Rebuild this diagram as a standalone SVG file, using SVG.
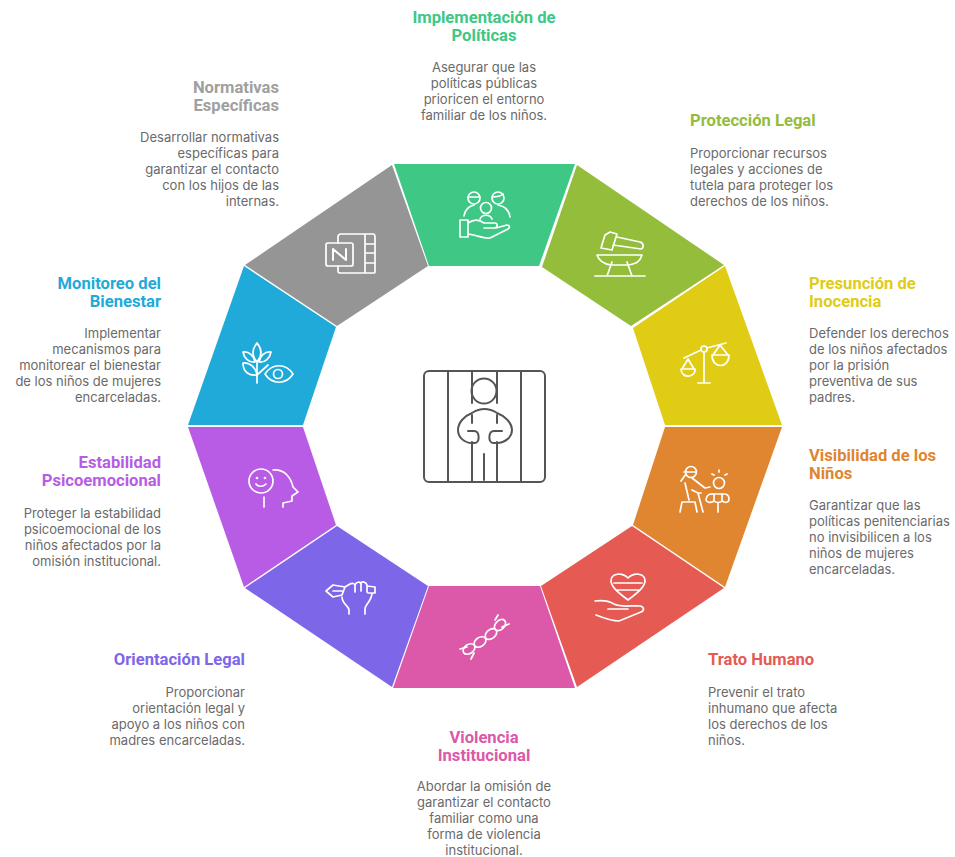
<svg xmlns="http://www.w3.org/2000/svg" width="955" height="857" viewBox="0 0 955 857">
<style>
text{font-family:"Roboto","Liberation Sans",sans-serif}
.t{font-size:16.6px;font-weight:700}
.b{font-family:"Inter","Roboto",sans-serif;font-size:13px;fill:#6a6a6a}
.m{text-anchor:middle}.e{text-anchor:end}
.i{fill:none;stroke:#fff;stroke-width:1.7;stroke-linecap:round;stroke-linejoin:round}
.c{fill:none;stroke:#555;stroke-width:2;stroke-linecap:round;stroke-linejoin:round}
</style>
<rect width="955" height="857" fill="#fff"/>
<g id="node-implementacion">
<polygon points="394,164 575,164 539,266 429,266" fill="#3ec785"/>
<g class="i"><circle cx="474" cy="198" r="6"/><circle cx="498" cy="198" r="6"/><circle cx="486" cy="208" r="5.5"/><path d="M468,197H480M492,197C496,197 501,196 503,194M464,216C465,209 470,206 474,205M498,205C504,206 509,210 510,217M480,219C482,214 490,214 492,219"/><path d="M460,220H468V237H460ZM468,223C474,219 480,220 484,223H495C498,223 498,228 494,228H484M496,228L507,225C510,225 510,228 508,229L490,238C484,239 476,235 468,234"/></g>
<text class="t m" x="484" y="23" fill="#3ec785">Implementación de</text><text class="t m" x="484" y="41" fill="#3ec785">Políticas</text>
<text class="b m" x="484" y="72">Asegurar que las</text><text class="b m" x="484" y="88">políticas públicas</text><text class="b m" x="484" y="104">prioricen el entorno</text><text class="b m" x="484" y="120">familiar de los niños.</text>
</g>
<g id="node-proteccion">
<polygon points="577,165 724,265 631,326 542,267" fill="#93bd3b"/>
<g class="i"><path d="M601,248L605,235 610,232 617,234 612,250ZM617,237L640,242C644,243 644,248 641,249L613,245"/><path d="M597,255H642C640,261 637,264 628,265H611C603,264 599,261 597,255ZM612,262L607,276M627,262L632,276M595,276H645"/></g>
<text class="t" x="690" y="126" fill="#93bd3b">Protección Legal</text>
<text class="b" x="690" y="158">Proporcionar recursos</text><text class="b" x="690" y="174">legales y acciones de</text><text class="b" x="690" y="190">tutela para proteger los</text><text class="b" x="690" y="206">derechos de los niños.</text>
</g>
<g id="node-presuncion">
<polygon points="725,266 782,425 665,425 633,328" fill="#e0cc15"/>
<g class="i"><circle cx="704" cy="349" r="3"/><path d="M684,358L701,350M707,348L726,343M704,352V383M698,383H710"/><path d="M688,359L682,369M688,359L694,369M681,369H695C696,378 681,379 681,369Z"/><path d="M720,345L713,355M720,345L728,355M712,355H729C729,369 712,369 712,355Z"/></g>
<text class="t" x="809" y="289" fill="#e0cc15">Presunción de</text><text class="t" x="809" y="307" fill="#e0cc15">Inocencia</text>
<text class="b" x="809" y="338">Defender los derechos</text><text class="b" x="809" y="354">de los niños afectados</text><text class="b" x="809" y="370">por la prisión</text><text class="b" x="809" y="386">preventiva de sus</text><text class="b" x="809" y="402">padres.</text>
</g>
<g id="node-visibilidad">
<polygon points="782,427 725,587 633,525 665,427" fill="#e08530"/>
<g class="i"><circle cx="691" cy="472" r="5.5"/><path d="M684,472H696M686,474L681,481M685,483L689,500M692,478L705,488 710,487M692,490L698,493 701,493M698,493L703,512M680,512L682,502H695L697,512"/><circle cx="719" cy="483" r="5.5"/><path d="M714,494C708,493 706,497 706,500 707,503 711,503 714,501 716,503 720,503 722,501 725,503 729,503 729,499 729,496 727,494 724,494ZM714,494V501M722,494V501M718,503V512M712,474L714,475M719,470V472M727,474L725,475"/></g>
<text class="t" x="809" y="461" fill="#e08530">Visibilidad de los</text><text class="t" x="809" y="479" fill="#e08530">Niños</text>
<text class="b" x="809" y="510">Garantizar que las</text><text class="b" x="809" y="526">políticas penitenciarias</text><text class="b" x="809" y="542">no invisibilicen a los</text><text class="b" x="809" y="558">niños de mujeres</text><text class="b" x="809" y="574">encarceladas.</text>
</g>
<g id="node-trato">
<polygon points="724,588 577,687 541,586 632,526" fill="#e55a52"/>
<g class="i"><path d="M628,600C619,593 611,587 611,581C611,573 622,572 628,578C634,572 645,573 645,581C645,587 637,593 628,600ZM614,583H642M617,590H639"/><path d="M595,601C603,600 609,601 614,604 622,608 632,605 640,606 645,607 644,611 641,612L619,621C611,621 601,617 596,615M608,609H628"/></g>
<text class="t" x="708" y="665" fill="#e55a52">Trato Humano</text>
<text class="b" x="708" y="697">Prevenir el trato</text><text class="b" x="708" y="713">inhumano que afecta</text><text class="b" x="708" y="729">los derechos de los</text><text class="b" x="708" y="745">niños.</text>
</g>
<g id="node-violencia">
<polygon points="575,688 393,688 429,586 540,586" fill="#dc58a8"/>
<g class="i"><path d="M460,649L467,647M502,627L509,624M471,659L474,653M495,620L498,615"/><ellipse cx="469" cy="649" rx="6.5" ry="4.5" transform="rotate(-35 469 649)"/><ellipse cx="480" cy="642" rx="6.5" ry="4.5" transform="rotate(-35 480 642)"/><ellipse cx="491" cy="634" rx="6.5" ry="4.5" transform="rotate(-40 491 634)"/><ellipse cx="500" cy="625" rx="6.5" ry="4.5" transform="rotate(-45 500 625)"/></g>
<text class="t m" x="484" y="743" fill="#dc58a8">Violencia</text><text class="t m" x="484" y="761" fill="#dc58a8">Institucional</text>
<text class="b m" x="484" y="791">Abordar la omisión de</text><text class="b m" x="484" y="807">garantizar el contacto</text><text class="b m" x="484" y="823">familiar como una</text><text class="b m" x="484" y="839">forma de violencia</text><text class="b m" x="484" y="855">institucional.</text>
</g>
<g id="node-orientacion">
<polygon points="392,687 245,588 337,526 428,586" fill="#7d66e8"/>
<g class="i"><path d="M326,591L333,585 345,587 342,595 333,597ZM333,591H342M345,587L350,584C352,583 355,583 355,586V592M355,585C356,582 360,581 361,584V591M361,583C362,581 366,582 367,585V592M367,586L375,587V593H368M342,597C342,604 349,606 349,610V614M372,593C372,601 365,604 365,609V614"/></g>
<text class="t e" x="245" y="665" fill="#7d66e8">Orientación Legal</text>
<text class="b e" x="245" y="697">Proporcionar</text><text class="b e" x="245" y="713">orientación legal y</text><text class="b e" x="245" y="729">apoyo a los niños con</text><text class="b e" x="245" y="745">madres encarceladas.</text>
</g>
<g id="node-estabilidad">
<polygon points="244,587 188,427 303,427 336,525" fill="#b85ce5"/>
<g class="i"><circle cx="261" cy="481" r="12"/><circle cx="257" cy="478" r=".5"/><circle cx="265" cy="478" r=".5"/><path d="M256,484C258,487 263,487 266,484M264,497V507M273,470C285,469 291,478 293,487L298,492 292,496V501L283,503V507"/></g>
<text class="t e" x="161" y="468" fill="#b85ce5">Estabilidad</text><text class="t e" x="161" y="486" fill="#b85ce5">Psicoemocional</text>
<text class="b e" x="161" y="518">Proteger la estabilidad</text><text class="b e" x="161" y="534">psicoemocional de los</text><text class="b e" x="161" y="550">niños afectados por la</text><text class="b e" x="161" y="566">omisión institucional.</text>
</g>
<g id="node-monitoreo">
<polygon points="188,425 244,266 336,327 303,425" fill="#1faad9"/>
<g class="i"><path d="M257,343C252,349 252,356 257,362C262,356 262,349 257,343ZM243,352C249,351 254,356 255,362 249,363 244,358 243,352ZM271,352C265,351 260,356 259,362 265,363 270,358 271,352ZM257,362V383M243,363C249,362 256,367 257,375 249,376 243,372 243,363ZM268,365L257,375"/><path d="M265,374C272,363 286,363 293,374C286,385 272,385 265,374Z"/><circle cx="278" cy="374" r="4.5"/></g>
<text class="t e" x="161" y="289" fill="#1faad9">Monitoreo del</text><text class="t e" x="161" y="307" fill="#1faad9">Bienestar</text>
<text class="b e" x="161" y="338">Implementar</text><text class="b e" x="161" y="354">mecanismos para</text><text class="b e" x="161" y="370">monitorear el bienestar</text><text class="b e" x="161" y="386">de los niños de mujeres</text><text class="b e" x="161" y="402">encarceladas.</text>
</g>
<g id="node-normativas">
<polygon points="245,265 392,165 428,266 337,326" fill="#959595"/>
<g class="i"><rect x="326" y="243" width="27" height="23" rx="2"/><path d="M338,243V237C338,235 339,234 341,234H373C375,234 375,235 375,237V271C375,273 375,273 373,273H341C339,273 338,273 338,271V266M365,234V273M365,244H375M365,253H375M365,263H375"/><path d="M333,260V249L346,260V249" stroke-width="2"/></g>
<text class="t e" x="279" y="93" fill="#a0a0a0">Normativas</text><text class="t e" x="279" y="111" fill="#a0a0a0">Específicas</text>
<text class="b e" x="279" y="142">Desarrollar normativas</text><text class="b e" x="279" y="158">específicas para</text><text class="b e" x="279" y="174">garantizar el contacto</text><text class="b e" x="279" y="190">con los hijos de las</text><text class="b e" x="279" y="206">internas.</text>
</g>
<g id="centre" class="c">
<rect x="424" y="371" width="121" height="111" rx="5"/>
<path d="M448,371V482M472,371V403M472,415V423M472,442V482M497,371V403M497,415V423M497,442V482M521,371V482M484,454V480"/>
<circle cx="484" cy="391" r="12.5"/>
<path d="M472,413C480,408 489,408 497,413M472,413C464,416 458,423 458,430C458,437 464,443 472,443H475C480,443 480,431 474,431H468M497,413C505,416 512,423 512,430C512,437 505,443 497,443H493C488,443 488,431 494,431H502"/>
</g>
<g id="connectors"/>
</svg>
